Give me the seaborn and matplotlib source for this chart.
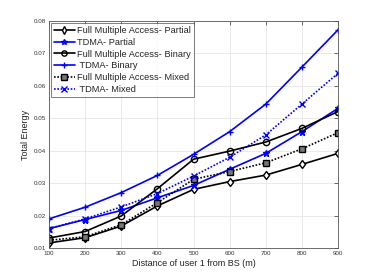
import numpy as np
import pandas as pd
import matplotlib
matplotlib.use("Agg")
import matplotlib.pyplot as plt
import seaborn as sns

# distance of user 1 from BS (m)
distance = [100, 200, 300, 400, 500, 600, 700, 800, 900]

fma_partial = [0.0116, 0.0132, 0.0168, 0.0230, 0.0281, 0.0305, 0.0325, 0.0358, 0.0392]
tdma_partial = [0.0160, 0.0188, 0.0216, 0.0255, 0.0293, 0.0343, 0.0392, 0.0459, 0.0531]
fma_binary = [0.0131, 0.0151, 0.0199, 0.0283, 0.0374, 0.0399, 0.0427, 0.0469, 0.0521]
tdma_binary = [0.0190, 0.0226, 0.0271, 0.0324, 0.0389, 0.0459, 0.0544, 0.0658, 0.0773]
fma_mixed = [0.0124, 0.0135, 0.0172, 0.0240, 0.0312, 0.0336, 0.0363, 0.0406, 0.0456]
tdma_mixed = [0.0160, 0.0190, 0.0227, 0.0268, 0.0322, 0.0380, 0.0449, 0.0544, 0.0639]

dots = (0, (1, 1))
series = [
    ("Full Multiple Access- Partial", fma_partial, "black", "-", "d", "white"),
    ("TDMA- Partial", tdma_partial, "blue", "-", "*", "blue"),
    ("Full Multiple Access- Binary", fma_binary, "black", "-", "o", "none"),
    (" TDMA- Binary", tdma_binary, "blue", "-", "+", "blue"),
    ("Full Multiple Access- Mixed", fma_mixed, "black", dots, "s", "#777777"),
    (" TDMA- Mixed", tdma_mixed, "blue", dots, "x", "blue"),
]

sns.set_style("white")
plt.rcParams["font.family"] = ["Liberation Sans", "DejaVu Sans"]

fig = plt.figure(figsize=(3.74, 2.8), dpi=100)
ax = fig.add_axes([0.131, 0.114, 0.773, 0.811])

for label, vals, col, ls, mk, fc in series:
    sns.lineplot(x=distance, y=vals, ax=ax, color=col, linestyle=ls, marker=mk,
                 markersize=4.5, markerfacecolor=fc, markeredgecolor=col,
                 markeredgewidth=1.0, linewidth=1.2, label=label)

ax.set_xlim(100, 900)
ax.set_ylim(0.01, 0.08)
ax.set_xticks(distance)
ax.set_yticks([0.01, 0.02, 0.03, 0.04, 0.05, 0.06, 0.07, 0.08])
ax.set_yticklabels(["0.01", "0.02", "0.03", "0.04", "0.05", "0.06", "0.07", "0.08"])
ax.tick_params(labelsize=4.5, colors="#333333", direction="in", length=3, width=0.5,
               top=True, right=True, pad=2)
ax.grid(True, color="#e6e6e6", linewidth=0.6)
for s in ax.spines.values():
    s.set_color("#555555")
    s.set_linewidth(0.6)
ax.set_xlabel("Distance of user 1 from BS (m)", fontsize=6.5, color="#222222", labelpad=2)
ax.set_ylabel("Total Energy", fontsize=6.5, color="#222222", labelpad=3)

leg = ax.legend(loc="upper left", fontsize=6.7, frameon=True, fancybox=False,
                borderaxespad=0.25, handlelength=2.2, handletextpad=0.3,
                labelspacing=0.3, borderpad=0.3, markerscale=0.85)
leg.get_frame().set_edgecolor("#444444")
leg.get_frame().set_linewidth(0.6)

fig.savefig("out.png", dpi=100)
